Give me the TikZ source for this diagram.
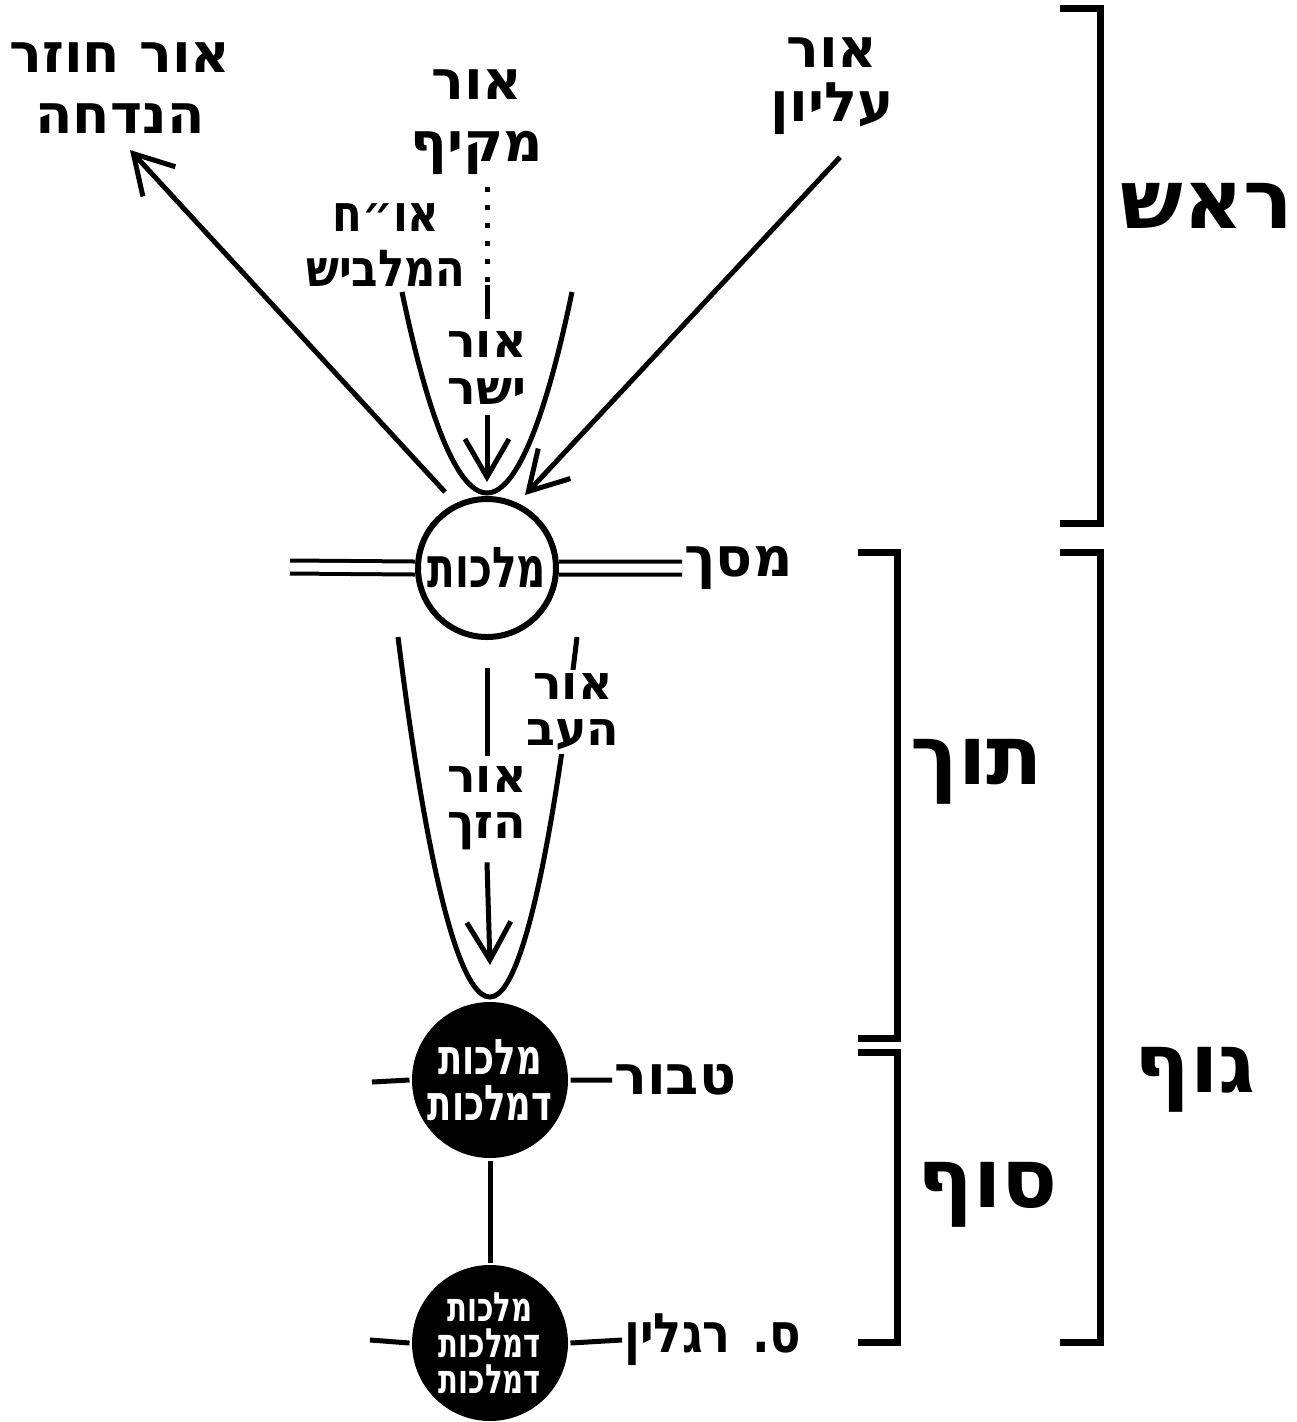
\documentclass[tikz,border=0pt]{standalone}
\usepackage{fontspec}
\usetikzlibrary{calc,arrows.meta}
\newfontfamily\hebfont[Script=Hebrew]{DejaVu Sans Bold}
\newfontfamily\hebmid[Script=Hebrew, FakeStretch=0.85]{DejaVu Sans Bold}
\newfontfamily\hebnarrow[Script=Hebrew, FakeStretch=0.72]{DejaVu Sans Bold}
\TeXXeTstate=1
\newcommand{\heb}[1]{\beginR #1\endR}
\tikzset{
  lbl/.style={align=center, inner sep=0pt, font=\hebfont\fontsize{15.5}{17.5}\selectfont},
  tight/.style={font=\hebfont\fontsize{13.5}{13.2}\selectfont},
  big/.style={inner sep=0pt, font=\hebfont\fontsize{23.5}{25}\selectfont},
  barb/.style={-{Straight Barb[length=0.38cm,width=0.44cm]}},
  brk/.style={line width=0.07cm},
  blk/.style={circle, fill=black, minimum size=1.56cm, inner sep=0pt},
  wtxt/.style={text=white, align=center, inner sep=0pt}
}
\begin{document}
\begin{tikzpicture}[line width=0.05cm]
\useasboundingbox (0,0) rectangle (12.97,-14.22);
\node [lbl] (hozer) at (1.2,-0.88) {\heb{אור חוזר}\\\heb{הנדחה}};
\node [lbl] (makif) at (4.77,-1.22) {\heb{אור}\\\heb{מקיף}};
\node [lbl, font=\hebfont\fontsize{15.5}{15.5}\selectfont] (elyon) at (8.32,-0.86) {\heb{אור}\\\heb{עליון}};
\node [lbl, font=\hebmid\fontsize{14.5}{15.5}\selectfont] (ohach) at (3.86,-2.45) {\heb{או״ח}\\\heb{המלביש}};
\node [lbl, tight] (yashar) at (4.87,-3.68) {\heb{אור}\\\heb{ישר}};
\node [circle, draw, line width=0.06cm, minimum size=1.38cm, inner sep=0pt, font=\hebnarrow\fontsize{16}{16}\selectfont] (malkhut) at (4.87,-5.68) {\heb{מלכות}};
\node [lbl, anchor=west] (masakh) at (6.82,-5.68) {\heb{מסך}};
\coordinate (hozerfrom) at (4.45,-4.92);
\coordinate (hozerto) at (1.3,-1.5);
\coordinate (elyonto) at (5.25,-4.95);
\coordinate (dots) at (4.87,-2.82);
\coordinate (cup) at (4.87,-4.82);
\draw [barb] (hozerfrom) -- (hozerto);
\draw [barb] (elyon.south) ++(0.08,-0.2) coordinate (elyonfrom) -- (elyonto);
\draw [dash pattern=on 0.05cm off 0.13cm] ([yshift=-0.1cm]dots |- makif.south) -- (dots);
\draw ([yshift=-0.03cm]dots) -- ([yshift=0.1cm]yashar.north);
\draw [barb] ([yshift=-0.08cm]yashar.south) -- (cup);
\draw (4.02,-2.92) parabola bend (4.87,-4.93) (5.72,-2.92);
\draw [double, double distance=0.09cm, line width=0.04cm] (2.9,-5.67) -- (malkhut.west) (malkhut.east) -- (masakh.west);
\draw (3.98,-6.37) parabola bend (4.9,-9.97) (5.77,-6.37);
\node [lbl, tight, fill=white, inner sep=1pt] (av) at (5.73,-7.12) {\heb{אור}\\\heb{העב}};
\node [lbl, tight] (zakh) at (4.87,-8.08) {\heb{אור}\\\heb{הזך}};
\draw ([yshift=-0.28cm]malkhut.south) -- ([yshift=0.08cm]zakh.north);
\draw [barb] ([yshift=-0.1cm]zakh.south) -- (4.9,-9.65);
\node [blk] (mdm) at (4.9,-10.8) {};
\node [wtxt, font=\hebnarrow\fontsize{14}{13.3}\selectfont] (mdmtext) at (mdm) {\heb{מלכות}\\\heb{דמלכות}};
\node [blk] (mdmdm) at (4.9,-13.43) {};
\node [wtxt, font=\hebnarrow\fontsize{11.5}{10.2}\selectfont] (mdmdmtext) at (mdmdm) {\heb{מלכות}\\\heb{דמלכות}\\\heb{דמלכות}};
\node [lbl, anchor=west] (tabur) at (6.12,-10.8) {\heb{טבור}};
\node [lbl, anchor=west, font=\hebmid\fontsize{15.5}{17}\selectfont] (raglin) at (6.22,-13.4) {\heb{ס. רגלין}};
\draw (3.72,-10.82) -- (mdm.west) (mdm.east) -- (tabur.west);
\draw (3.7,-13.4) -- (mdmdm.west) (mdmdm.east) -- (raglin.west);
\draw (mdm) -- (mdmdm);
\draw [brk] (10.6,-0.08) -| (11.0,-5.23) -- (10.6,-5.23);
\draw [brk] (10.6,-5.52) -| (11.0,-13.42) -- (10.6,-13.42);
\draw [brk] (8.58,-5.52) -| (8.97,-10.38) -- (8.58,-10.38);
\draw [brk] (8.58,-10.52) -| (8.97,-13.42) -- (8.58,-13.42);
\node [big] (rosh) at (12.07,-2.06) {\heb{ראש}};
\node [big] (guf) at (11.95,-10.8) {\heb{גוף}};
\node [big] (toch) at (9.77,-7.72) {\heb{תוך}};
\node [big] (sof) at (9.88,-11.95) {\heb{סוף}};
\end{tikzpicture}
\end{document}
